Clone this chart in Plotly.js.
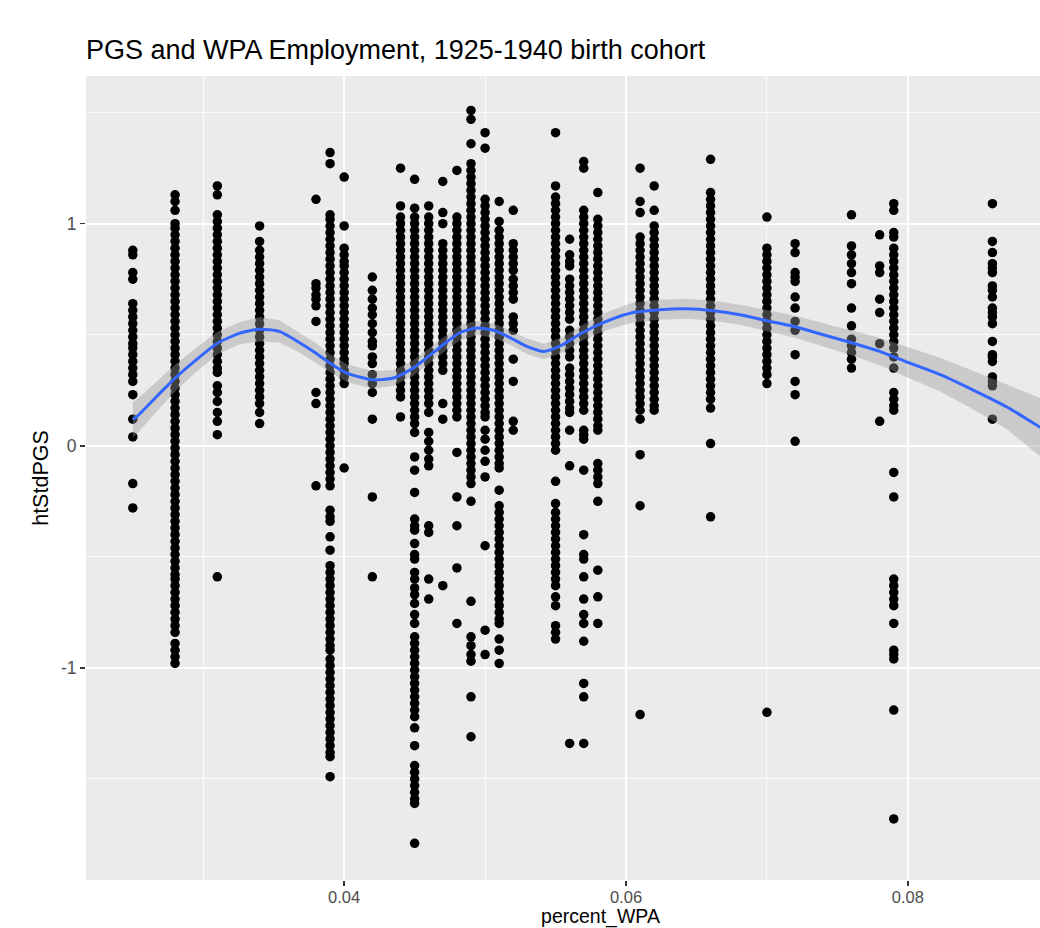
<!DOCTYPE html>
<html>
<head>
<meta charset="utf-8">
<script src="https://cdn.plot.ly/plotly-3.0.1.min.js"></script>
<style>
html, body { margin: 0; padding: 0; overflow: hidden; background: #ffffff; width: 1040px; height: 928px; }
#chart { width: 1120px; height: 928px; }
</style>
</head>
<body>
<div id="chart"></div>
<script>
// ---- Text ----
const chartTitle = 'PGS and WPA Employment, 1925-1940 birth cohort';
const xTitle = 'percent_WPA';
const yTitle = 'htStdPGS';

// ---- Axis ticks ----
const xTickVals = [0.04, 0.06, 0.08];
const xTickText = ['0.04', '0.06', '0.08'];
const xMinorVals = [0.03, 0.05, 0.07, 0.09];
const yTickVals = [-1, 0, 1];
const yTickText = ['-1', '0', '1'];
const yMinorVals = [-1.5, -0.5, 0.5, 1.5];
const xRange = [0.02168, 0.0947];
const yRange = [-1.955, 1.665];

// ---- Scatter data: WPA share levels and PGS values observed at each ----
const wpaLevels = [0.025, 0.028, 0.031, 0.034, 0.038, 0.039, 0.040, 0.042, 0.044, 0.045,
                   0.046, 0.047, 0.048, 0.049, 0.050, 0.051, 0.052, 0.055, 0.056, 0.057,
                   0.058, 0.061, 0.062, 0.066, 0.070, 0.072, 0.076, 0.078, 0.079, 0.086];

const pgs_025 = [0.88,0.86,0.78,0.75,0.64,0.61,0.58,0.55,0.52,0.49,0.46,0.44,0.41,0.38,0.35,0.32,0.29,0.23,0.12,0.04,-0.17,-0.28];
const pgs_028 = [1.13,1.10,1.06,1.00,0.98,0.95,0.92,0.89,0.86,0.83,0.80,0.77,0.74,0.71,0.68,0.65,0.62,0.59,0.56,0.53,0.50,0.47,0.44,0.41,0.38,0.35,0.32,0.29,0.26,0.23,0.20,0.17,0.14,0.11,0.08,0.05,0.02,-0.01,-0.04,-0.07,-0.10,-0.13,-0.16,-0.19,-0.22,-0.25,-0.28,-0.31,-0.34,-0.37,-0.40,-0.43,-0.46,-0.49,-0.52,-0.55,-0.58,-0.60,-0.63,-0.66,-0.69,-0.72,-0.75,-0.78,-0.81,-0.84,-0.89,-0.92,-0.95,-0.98];
const pgs_031 = [1.17,1.13,1.04,1.01,0.98,0.95,0.92,0.89,0.86,0.83,0.80,0.77,0.74,0.71,0.68,0.65,0.62,0.59,0.56,0.53,0.50,0.47,0.44,0.41,0.38,0.35,0.33,0.27,0.24,0.20,0.15,0.11,0.05,-0.59];
const pgs_034 = [0.99,0.92,0.88,0.85,0.82,0.79,0.76,0.73,0.70,0.67,0.64,0.61,0.58,0.55,0.52,0.49,0.46,0.43,0.40,0.37,0.34,0.31,0.28,0.25,0.22,0.19,0.15,0.10];
const pgs_038 = [1.11,0.73,0.71,0.68,0.66,0.63,0.56,0.24,0.19,-0.18];
const pgs_039 = [1.32,1.27,1.04,1.02,0.99,0.96,0.93,0.90,0.87,0.84,0.81,0.78,0.75,0.72,0.69,0.66,0.63,0.60,0.57,0.54,0.51,0.48,0.45,0.42,0.39,0.36,0.33,0.30,0.27,0.24,0.21,0.18,0.15,0.12,0.09,0.06,0.03,0.00,-0.03,-0.06,-0.09,-0.12,-0.15,-0.18,-0.29,-0.32,-0.34,-0.41,-0.47,-0.54,-0.57,-0.60,-0.63,-0.66,-0.69,-0.72,-0.75,-0.78,-0.81,-0.84,-0.87,-0.90,-0.92,-0.96,-0.99,-1.02,-1.05,-1.08,-1.11,-1.14,-1.17,-1.20,-1.23,-1.26,-1.29,-1.32,-1.35,-1.38,-1.40,-1.49];
const pgs_040 = [1.21,0.99,0.89,0.86,0.83,0.81,0.78,0.75,0.72,0.69,0.66,0.63,0.60,0.57,0.54,0.51,0.48,0.45,0.42,0.39,0.37,0.34,0.31,0.28,-0.10];
const pgs_042 = [0.76,0.70,0.66,0.62,0.59,0.55,0.51,0.47,0.45,0.40,0.37,0.32,0.28,0.24,0.12,-0.23,-0.59];
const pgs_044 = [1.25,1.08,1.03,1.00,0.97,0.94,0.91,0.88,0.85,0.82,0.79,0.76,0.73,0.70,0.67,0.64,0.61,0.58,0.55,0.52,0.49,0.46,0.43,0.40,0.37,0.34,0.31,0.28,0.25,0.22,0.13];
const pgs_045 = [1.20,1.07,1.03,1.00,0.97,0.94,0.91,0.88,0.85,0.82,0.79,0.76,0.73,0.70,0.67,0.64,0.61,0.58,0.55,0.52,0.49,0.46,0.43,0.40,0.37,0.34,0.31,0.28,0.25,0.22,0.19,0.16,0.13,0.10,0.06,-0.05,-0.11,-0.21,-0.33,-0.36,-0.38,-0.44,-0.49,-0.51,-0.57,-0.60,-0.64,-0.67,-0.71,-0.76,-0.80,-0.86,-0.89,-0.92,-0.95,-0.98,-1.01,-1.04,-1.07,-1.10,-1.13,-1.16,-1.19,-1.22,-1.27,-1.35,-1.44,-1.47,-1.50,-1.53,-1.56,-1.59,-1.61,-1.79];
const pgs_046 = [1.08,1.03,1.00,0.97,0.94,0.91,0.88,0.85,0.82,0.79,0.76,0.73,0.70,0.67,0.64,0.61,0.58,0.55,0.52,0.49,0.46,0.43,0.40,0.37,0.34,0.31,0.28,0.25,0.22,0.19,0.15,0.06,0.02,-0.02,-0.06,-0.09,-0.36,-0.39,-0.60,-0.69];
const pgs_047 = [1.19,1.05,1.00,0.91,0.88,0.85,0.82,0.79,0.76,0.73,0.70,0.67,0.64,0.61,0.58,0.55,0.52,0.49,0.46,0.43,0.40,0.37,0.34,0.19,0.12,-0.63];
const pgs_048 = [1.24,1.03,1.00,0.97,0.94,0.91,0.88,0.85,0.82,0.79,0.76,0.73,0.70,0.67,0.64,0.61,0.58,0.55,0.52,0.49,0.46,0.43,0.40,0.37,0.34,0.31,0.28,0.25,0.22,0.19,0.16,0.13,-0.03,-0.23,-0.36,-0.55,-0.80];
const pgs_049 = [1.51,1.47,1.36,1.27,1.24,1.21,1.18,1.15,1.12,1.09,1.06,1.03,1.00,0.97,0.94,0.91,0.88,0.85,0.82,0.79,0.76,0.73,0.70,0.67,0.64,0.61,0.58,0.55,0.52,0.49,0.46,0.43,0.40,0.37,0.34,0.31,0.28,0.25,0.22,0.19,0.16,0.13,0.10,0.07,0.04,0.01,-0.02,-0.05,-0.08,-0.11,-0.14,-0.17,-0.25,-0.70,-0.86,-0.90,-0.94,-0.97,-1.13,-1.31];
const pgs_050 = [1.41,1.34,1.11,1.08,1.05,1.02,0.99,0.96,0.93,0.90,0.87,0.84,0.81,0.78,0.75,0.72,0.69,0.66,0.63,0.60,0.57,0.54,0.51,0.48,0.45,0.42,0.39,0.36,0.33,0.30,0.27,0.24,0.21,0.18,0.15,0.13,0.07,0.03,-0.02,-0.07,-0.14,-0.45,-0.83,-0.94];
const pgs_051 = [1.10,1.01,0.97,0.94,0.91,0.88,0.85,0.82,0.79,0.76,0.73,0.70,0.67,0.64,0.61,0.58,0.55,0.52,0.49,0.46,0.43,0.40,0.37,0.34,0.31,0.28,0.25,0.22,0.19,0.16,0.13,0.10,0.07,0.04,0.01,-0.02,-0.05,-0.08,-0.10,-0.20,-0.27,-0.30,-0.33,-0.36,-0.39,-0.42,-0.45,-0.48,-0.51,-0.54,-0.57,-0.60,-0.63,-0.66,-0.69,-0.72,-0.75,-0.78,-0.80,-0.87,-0.92,-0.98];
const pgs_052 = [1.06,0.91,0.88,0.85,0.82,0.79,0.75,0.72,0.69,0.66,0.58,0.55,0.52,0.39,0.29,0.11,0.07];
const pgs_055 = [1.41,1.17,1.12,1.09,1.06,1.03,1.00,0.97,0.94,0.91,0.88,0.85,0.82,0.79,0.76,0.73,0.70,0.67,0.64,0.61,0.58,0.55,0.52,0.49,0.46,0.43,0.40,0.37,0.34,0.31,0.28,0.25,0.22,0.19,0.16,0.13,0.10,0.07,0.04,0.01,-0.02,-0.16,-0.26,-0.30,-0.33,-0.36,-0.39,-0.42,-0.45,-0.48,-0.51,-0.54,-0.57,-0.60,-0.63,-0.68,-0.72,-0.81,-0.84,-0.87];
const pgs_056 = [0.93,0.86,0.83,0.81,0.75,0.72,0.69,0.66,0.63,0.60,0.57,0.52,0.49,0.46,0.43,0.40,0.35,0.32,0.29,0.26,0.23,0.20,0.17,0.15,0.07,-0.09,-1.34];
const pgs_057 = [1.28,1.25,1.06,1.03,1.00,0.97,0.94,0.91,0.88,0.85,0.82,0.79,0.76,0.73,0.70,0.67,0.64,0.61,0.58,0.55,0.52,0.49,0.46,0.43,0.40,0.37,0.34,0.31,0.28,0.25,0.22,0.19,0.16,0.07,0.05,0.03,-0.11,-0.40,-0.49,-0.51,-0.59,-0.69,-0.76,-0.80,-0.88,-1.07,-1.13,-1.34];
const pgs_058 = [1.14,1.02,0.99,0.96,0.93,0.90,0.87,0.84,0.81,0.78,0.75,0.72,0.69,0.66,0.63,0.60,0.57,0.54,0.51,0.48,0.45,0.42,0.39,0.36,0.33,0.30,0.27,0.24,0.21,0.18,0.15,0.12,0.09,0.07,-0.08,-0.11,-0.14,-0.17,-0.25,-0.56,-0.68,-0.80];
const pgs_061 = [1.25,1.10,1.05,0.94,0.91,0.88,0.85,0.82,0.79,0.76,0.73,0.70,0.67,0.64,0.61,0.58,0.55,0.52,0.49,0.46,0.43,0.40,0.37,0.34,0.31,0.28,0.25,0.22,0.19,0.16,0.12,-0.04,-0.27,-1.21];
const pgs_062 = [1.17,1.06,0.99,0.96,0.93,0.90,0.87,0.84,0.81,0.78,0.75,0.72,0.69,0.66,0.63,0.60,0.57,0.54,0.51,0.48,0.45,0.42,0.39,0.36,0.33,0.30,0.27,0.24,0.21,0.18,0.16];
const pgs_066 = [1.29,1.14,1.11,1.08,1.05,1.02,0.99,0.96,0.93,0.90,0.87,0.84,0.81,0.78,0.75,0.72,0.69,0.66,0.63,0.60,0.57,0.54,0.51,0.48,0.45,0.42,0.39,0.36,0.33,0.30,0.27,0.24,0.21,0.17,0.01,-0.32];
const pgs_070 = [1.03,0.89,0.86,0.83,0.80,0.77,0.74,0.71,0.68,0.65,0.62,0.59,0.56,0.53,0.50,0.47,0.44,0.41,0.38,0.35,0.32,0.28,-1.20];
const pgs_072 = [0.91,0.87,0.78,0.76,0.74,0.67,0.62,0.56,0.52,0.41,0.29,0.23,0.02];
const pgs_076 = [1.04,0.90,0.86,0.82,0.78,0.73,0.62,0.54,0.48,0.45,0.42,0.39,0.35];
const pgs_078 = [0.95,0.81,0.78,0.66,0.60,0.46,0.11];
const pgs_079 = [1.09,1.06,0.96,0.94,0.89,0.86,0.83,0.80,0.77,0.74,0.71,0.68,0.65,0.62,0.59,0.56,0.53,0.50,0.47,0.44,0.40,0.35,0.24,0.21,0.18,0.16,-0.12,-0.23,-0.60,-0.63,-0.66,-0.69,-0.72,-0.80,-0.92,-0.94,-0.96,-1.19,-1.68];
const pgs_086 = [1.09,0.92,0.87,0.82,0.80,0.78,0.72,0.70,0.67,0.62,0.60,0.58,0.55,0.47,0.41,0.40,0.38,0.31,0.29,0.27,0.12];

const pgsByLevel = [pgs_025, pgs_028, pgs_031, pgs_034, pgs_038, pgs_039, pgs_040, pgs_042, pgs_044, pgs_045,
                    pgs_046, pgs_047, pgs_048, pgs_049, pgs_050, pgs_051, pgs_052, pgs_055, pgs_056, pgs_057,
                    pgs_058, pgs_061, pgs_062, pgs_066, pgs_070, pgs_072, pgs_076, pgs_078, pgs_079, pgs_086];

// ---- Loess smooth: x, fitted value, half-width of band ----
const smoothX   = [0.0250, 0.0253, 0.0267, 0.0280, 0.0295, 0.0310, 0.0326, 0.0340, 0.0354, 0.0369, 0.0380, 0.0390, 0.0402, 0.0420, 0.0435, 0.0449, 0.0468, 0.0482, 0.0494, 0.0506, 0.0518, 0.0530, 0.0542, 0.0555, 0.0569, 0.0586, 0.0605, 0.0624, 0.0643, 0.0662, 0.0681, 0.0700, 0.0720, 0.0740, 0.0760, 0.0780, 0.0799, 0.0823, 0.0846, 0.0870, 0.0893, 0.0914];
const smoothFit = [0.118,  0.132,  0.222,  0.305,  0.387,  0.462,  0.507,  0.525,  0.515,  0.462,  0.417,  0.372,  0.327,  0.297,  0.305,  0.350,  0.444,  0.509,  0.530,  0.520,  0.486,  0.447,  0.425,  0.455,  0.509,  0.560,  0.600,  0.613,  0.617,  0.608,  0.590,  0.563,  0.536,  0.500,  0.464,  0.425,  0.378,  0.320,  0.252,  0.176,  0.087,  0.010];
const smoothSE  = [0.080,  0.078,  0.068,  0.060,  0.055,  0.050,  0.050,  0.055,  0.050,  0.045,  0.045,  0.040,  0.040,  0.040,  0.035,  0.035,  0.035,  0.035,  0.032,  0.032,  0.032,  0.035,  0.035,  0.035,  0.035,  0.040,  0.045,  0.045,  0.045,  0.045,  0.045,  0.047,  0.050,  0.052,  0.056,  0.062,  0.068,  0.076,  0.086,  0.100,  0.130,  0.160];

// ---- Build traces ----
const ptsX = [], ptsY = [];
wpaLevels.forEach((lvl, i) => {
  pgsByLevel[i].forEach(v => { ptsX.push(lvl); ptsY.push(v); });
});

const upper = smoothFit.map((v, i) => v + smoothSE[i]);
const lower = smoothFit.map((v, i) => v - smoothSE[i]);
const bandX = smoothX.concat(smoothX.slice().reverse());
const bandY = upper.concat(lower.slice().reverse());

const traces = [
  {
    type: 'scatter', mode: 'markers', x: ptsX, y: ptsY,
    marker: {color: '#000000', size: 9.5, line: {width: 0}},
    hoverinfo: 'skip', showlegend: false
  },
  {
    type: 'scatter', mode: 'lines', x: bandX, y: bandY,
    fill: 'toself', fillcolor: 'rgba(153,153,153,0.4)',
    line: {width: 0, color: 'rgba(0,0,0,0)'},
    hoverinfo: 'skip', showlegend: false
  },
  {
    type: 'scatter', mode: 'lines', x: smoothX, y: smoothFit,
    line: {color: '#3366FF', width: 3, shape: 'spline', smoothing: 0.6},
    hoverinfo: 'skip', showlegend: false
  }
];

const W = 1120, H = 928;
const layout = {
  width: W, height: H,
  margin: {l: 86, r: 5, t: 76, b: 48, pad: 0},
  paper_bgcolor: '#FFFFFF',
  plot_bgcolor: '#EBEBEB',
  showlegend: false,
  font: {family: '"Liberation Sans", Arial, Helvetica, sans-serif', color: '#000000'},
  title: {
    text: chartTitle, xref: 'paper', x: 0, xanchor: 'left',
    yref: 'container', y: 1 - 50 / H, yanchor: 'middle',
    font: {size: 27, color: '#000000'}
  },
  xaxis: {
    range: xRange, tickmode: 'array', tickvals: xTickVals, ticktext: xTickText,
    ticks: 'outside', ticklen: 5, tickwidth: 1.5, tickcolor: '#333333',
    tickfont: {size: 16.5, color: '#4D4D4D'}, ticklabelstandoff: -3,
    showgrid: true, gridcolor: '#FFFFFF', gridwidth: 1.6,
    zeroline: false, showline: false,
    minor: {tickmode: 'array', tickvals: xMinorVals, showgrid: true, gridcolor: '#FFFFFF', gridwidth: 0.8, ticks: ''},
    title: {text: xTitle, font: {size: 19.5, color: '#000000'}, standoff: 0}
  },
  yaxis: {
    range: yRange, tickmode: 'array', tickvals: yTickVals, ticktext: yTickText,
    ticks: 'outside', ticklen: 5, tickwidth: 1.5, tickcolor: '#333333',
    tickfont: {size: 17.5, color: '#4D4D4D'},
    showgrid: true, gridcolor: '#FFFFFF', gridwidth: 1.6,
    zeroline: false, showline: false,
    minor: {tickmode: 'array', tickvals: yMinorVals, showgrid: true, gridcolor: '#FFFFFF', gridwidth: 0.8, ticks: ''},
    title: {text: yTitle, font: {size: 21.5, color: '#000000'}, standoff: 6}
  }
};

Plotly.newPlot('chart', traces, layout, {staticPlot: true, displayModeBar: false});
</script>
</body>
</html>
